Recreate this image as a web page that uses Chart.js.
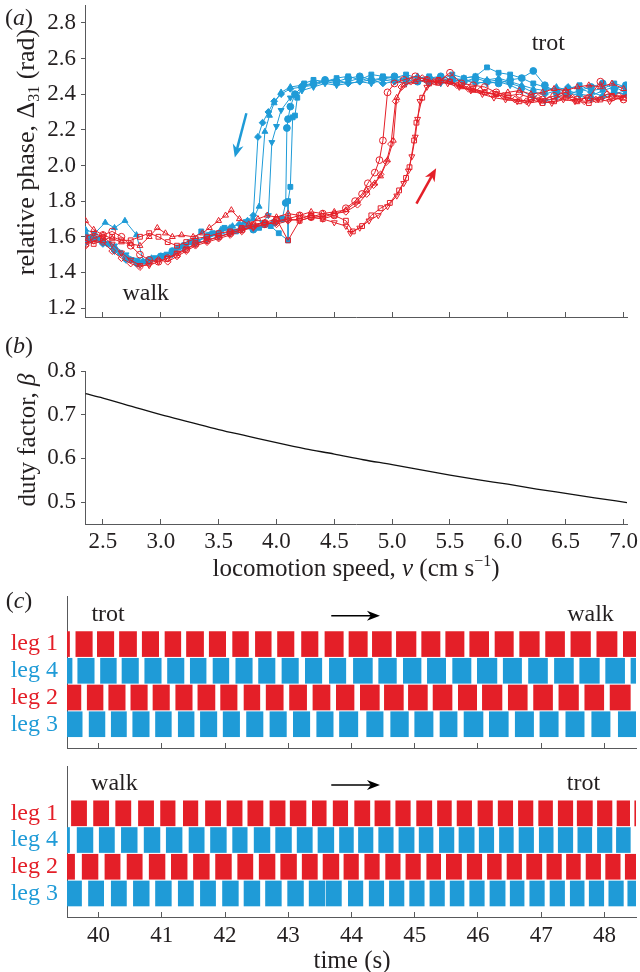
<!DOCTYPE html>
<html><head><meta charset="utf-8">
<script src="https://cdn.jsdelivr.net/npm/chart.js@4.4.1/dist/chart.umd.min.js"></script>
<style>
html,body{margin:0;padding:0;background:#fff;width:640px;height:972px;overflow:hidden;font-family:"Liberation Serif",serif;color:#231f20;}
canvas{position:absolute;left:0;}
.t{position:absolute;white-space:nowrap;font-size:24px;line-height:1;}
.c{transform:translate(-50%,-50%);}
.r{transform:translate(-50%,-50%) rotate(-90deg);}
sub{font-size:16px;vertical-align:-5px;line-height:0;}
sup{font-size:16px;vertical-align:10px;line-height:0;}
</style></head><body>
<canvas id="ca" width="640" height="330" style="top:0"></canvas>
<canvas id="cb" width="640" height="250" style="top:330px"></canvas>
<canvas id="cc1" width="640" height="170" style="top:590px"></canvas>
<canvas id="cc2" width="640" height="212" style="top:760px"></canvas>
<div class="t c" style="left:19px;top:17px">(<i>a</i>)</div>
<div class="t r" style="left:26px;top:152px;font-size:26px">relative phase, Δ<sub>31</sub> (rad)</div>
<div class="t c" style="left:19px;top:345px">(<i>b</i>)</div>
<div class="t r" style="left:26px;top:440px;font-size:25px">duty factor, <i>β</i></div>
<div class="t c" style="left:356px;top:567px;font-size:25px">locomotion speed, <i>v</i> (cm s<sup>−1</sup>)</div>
<div class="t c" style="left:19px;top:600px">(<i>c</i>)</div>
<div class="t c" style="left:352px;top:959px;font-size:25px">time (s)</div>
<script>
// ---------- DATA ----------
const speedTicks = [2.5,3.0,3.5,4.0,4.5,5.0,5.5,6.0,6.5,7.0];
const phaseTicks = [1.2,1.4,1.6,1.8,2.0,2.2,2.4,2.6,2.8];
const dutyTicks = [0.5,0.6,0.7,0.8];
const timeTicks = [40,41,42,43,44,45,46,47,48];
const legLabels = ['leg 1','leg 4','leg 2','leg 3'];

// (a) decreasing speed (blue, filled markers): [speed, relative phase]
const blueCircle = [[7.02,2.45],[6.92,2.43],[6.82,2.46],[6.72,2.44],[6.62,2.42],[6.52,2.40],[6.42,2.41],[6.32,2.45],[6.22,2.53],[6.12,2.49],[6.02,2.48],[5.92,2.46],[5.82,2.47],[5.72,2.49],[5.62,2.47],[5.52,2.48],[5.42,2.50],[5.32,2.49],[5.22,2.47],[5.12,2.48],[5.02,2.50],[4.92,2.49],[4.82,2.48],[4.72,2.50],[4.62,2.49],[4.52,2.47],[4.42,2.48],[4.32,2.46],[4.22,2.44],[4.16,2.40],[4.12,2.33],[4.10,2.26],[4.09,2.21],[4.08,1.79],[4.05,1.70],[3.98,1.68],[3.90,1.67],[3.80,1.64],[3.70,1.65],[3.60,1.63],[3.50,1.61],[3.40,1.60],[3.30,1.57],[3.20,1.55],[3.10,1.52],[3.00,1.49],[2.90,1.47],[2.80,1.45],[2.70,1.48],[2.60,1.53],[2.50,1.57],[2.40,1.59],[2.35,1.60]];
const blueSquare = [[7.02,2.44],[6.92,2.46],[6.82,2.43],[6.72,2.42],[6.62,2.45],[6.52,2.43],[6.42,2.41],[6.32,2.44],[6.22,2.46],[6.12,2.49],[6.02,2.51],[5.92,2.52],[5.82,2.55],[5.72,2.50],[5.62,2.49],[5.52,2.51],[5.42,2.48],[5.32,2.50],[5.22,2.49],[5.12,2.51],[5.02,2.49],[4.92,2.50],[4.82,2.51],[4.72,2.48],[4.62,2.50],[4.52,2.49],[4.42,2.47],[4.32,2.48],[4.24,2.46],[4.18,2.38],[4.16,2.28],[4.14,2.27],[4.12,1.88],[4.10,1.80],[4.10,1.58],[4.02,1.62],[3.95,1.66],[3.85,1.65],[3.75,1.66],[3.65,1.63],[3.55,1.65],[3.45,1.62],[3.35,1.63],[3.25,1.57],[3.15,1.54],[3.05,1.50],[2.95,1.48],[2.85,1.46],[2.75,1.47],[2.65,1.51],[2.55,1.56],[2.45,1.59],[2.35,1.61]];
const blueTriDown = [[7.02,2.42],[6.92,2.40],[6.82,2.38],[6.72,2.37],[6.62,2.39],[6.52,2.41],[6.42,2.38],[6.32,2.36],[6.22,2.38],[6.12,2.42],[6.02,2.45],[5.92,2.47],[5.82,2.46],[5.72,2.47],[5.62,2.48],[5.52,2.47],[5.42,2.46],[5.32,2.48],[5.22,2.47],[5.12,2.46],[5.02,2.47],[4.92,2.48],[4.82,2.46],[4.72,2.47],[4.62,2.46],[4.52,2.45],[4.42,2.46],[4.32,2.44],[4.22,2.42],[4.12,2.38],[4.04,2.31],[4.00,2.22],[3.96,2.13],[3.93,1.72],[3.88,1.68],[3.80,1.66],[3.70,1.64],[3.60,1.62],[3.50,1.60],[3.40,1.58],[3.30,1.56],[3.20,1.53],[3.10,1.50],[3.00,1.48],[2.90,1.46],[2.80,1.47],[2.70,1.50],[2.60,1.55],[2.50,1.58],[2.40,1.60],[2.35,1.58]];
const blueDiamond = [[7.02,2.40],[6.92,2.41],[6.82,2.39],[6.72,2.41],[6.62,2.43],[6.52,2.44],[6.42,2.42],[6.32,2.40],[6.22,2.41],[6.12,2.44],[6.02,2.46],[5.92,2.48],[5.82,2.47],[5.72,2.46],[5.62,2.48],[5.52,2.49],[5.42,2.47],[5.32,2.46],[5.22,2.48],[5.12,2.49],[5.02,2.47],[4.92,2.46],[4.82,2.48],[4.72,2.47],[4.62,2.46],[4.52,2.48],[4.42,2.47],[4.32,2.45],[4.22,2.44],[4.12,2.43],[4.04,2.40],[3.98,2.36],[3.93,2.30],[3.88,2.24],[3.84,2.16],[3.80,1.72],[3.75,1.69],[3.68,1.67],[3.60,1.65],[3.50,1.62],[3.40,1.60],[3.30,1.57],[3.20,1.54],[3.10,1.51],[3.00,1.49],[2.90,1.46],[2.80,1.45],[2.70,1.47],[2.60,1.52],[2.50,1.56],[2.40,1.58],[2.35,1.57]];
const blueTriUp = [[7.02,2.41],[6.92,2.44],[6.82,2.42],[6.72,2.39],[6.62,2.40],[6.52,2.42],[6.42,2.44],[6.32,2.42],[6.22,2.43],[6.12,2.45],[6.02,2.47],[5.92,2.49],[5.82,2.48],[5.72,2.50],[5.62,2.49],[5.52,2.47],[5.42,2.49],[5.32,2.48],[5.22,2.50],[5.12,2.48],[5.02,2.48],[4.92,2.49],[4.82,2.47],[4.72,2.49],[4.62,2.47],[4.52,2.46],[4.42,2.47],[4.32,2.46],[4.22,2.45],[4.12,2.44],[4.04,2.41],[3.98,2.35],[3.94,2.28],[3.90,2.19],[3.85,1.77],[3.80,1.70],[3.72,1.68],[3.62,1.66],[3.52,1.64],[3.42,1.61],[3.32,1.58],[3.22,1.55],[3.12,1.52],[3.02,1.49],[2.92,1.48],[2.85,1.46],[2.79,1.61],[2.69,1.69],[2.60,1.65],[2.52,1.68],[2.43,1.62],[2.35,1.64]];

// (a) increasing speed (red, open markers)
const redCircle = [[2.35,1.56],[2.42,1.59],[2.50,1.61],[2.58,1.63],[2.66,1.60],[2.74,1.55],[2.82,1.50],[2.90,1.47],[2.98,1.46],[3.06,1.48],[3.14,1.50],[3.22,1.53],[3.30,1.56],[3.40,1.58],[3.50,1.60],[3.60,1.62],[3.70,1.64],[3.80,1.66],[3.90,1.67],[4.00,1.69],[4.10,1.70],[4.20,1.72],[4.30,1.71],[4.40,1.73],[4.50,1.72],[4.60,1.76],[4.68,1.80],[4.74,1.84],[4.79,1.90],[4.85,1.96],[4.89,2.03],[4.92,2.14],[4.96,2.41],[5.02,2.46],[5.10,2.48],[5.20,2.50],[5.30,2.48],[5.40,2.47],[5.50,2.52],[5.60,2.46],[5.70,2.45],[5.80,2.44],[5.90,2.41],[6.00,2.39],[6.10,2.40],[6.20,2.38],[6.30,2.37],[6.40,2.39],[6.50,2.41],[6.60,2.37],[6.70,2.38],[6.80,2.47],[6.90,2.38],[7.00,2.37]];
const redSquare = [[2.35,1.58],[2.42,1.56],[2.50,1.58],[2.58,1.60],[2.66,1.58],[2.74,1.58],[2.82,1.60],[2.90,1.62],[2.98,1.60],[3.06,1.57],[3.14,1.55],[3.22,1.57],[3.30,1.59],[3.40,1.60],[3.50,1.62],[3.60,1.63],[3.70,1.65],[3.80,1.67],[3.90,1.68],[4.00,1.70],[4.10,1.58],[4.20,1.69],[4.30,1.71],[4.40,1.70],[4.50,1.72],[4.60,1.69],[4.66,1.63],[4.74,1.66],[4.82,1.72],[4.90,1.76],[4.98,1.79],[5.06,1.86],[5.12,1.93],[5.15,1.99],[5.19,2.14],[5.21,2.24],[5.26,2.38],[5.32,2.46],[5.40,2.48],[5.50,2.47],[5.60,2.45],[5.70,2.43],[5.80,2.41],[5.90,2.40],[6.00,2.38],[6.10,2.36],[6.20,2.37],[6.30,2.35],[6.40,2.36],[6.50,2.38],[6.60,2.36],[6.70,2.35],[6.80,2.37],[6.90,2.39],[7.00,2.38]];
const redTriUp = [[2.35,1.69],[2.42,1.64],[2.50,1.61],[2.58,1.59],[2.66,1.57],[2.74,1.56],[2.82,1.55],[2.90,1.60],[2.97,1.65],[3.04,1.62],[3.10,1.60],[3.18,1.61],[3.28,1.60],[3.36,1.62],[3.42,1.65],[3.50,1.69],[3.56,1.72],[3.61,1.75],[3.68,1.70],[3.76,1.67],[3.84,1.70],[3.92,1.72],[4.00,1.71],[4.10,1.73],[4.20,1.72],[4.30,1.74],[4.40,1.73],[4.50,1.74],[4.60,1.75],[4.70,1.80],[4.78,1.86],[4.85,1.90],[4.90,1.94],[4.96,2.03],[5.01,2.14],[5.04,2.38],[5.10,2.45],[5.20,2.47],[5.30,2.48],[5.40,2.46],[5.50,2.47],[5.60,2.44],[5.70,2.42],[5.80,2.41],[5.90,2.40],[6.00,2.41],[6.10,2.42],[6.20,2.40],[6.30,2.41],[6.40,2.43],[6.50,2.42],[6.60,2.44],[6.70,2.45],[6.80,2.44],[6.90,2.46],[7.00,2.43]];
const redDiamond = [[2.35,1.55],[2.42,1.58],[2.50,1.57],[2.58,1.52],[2.66,1.48],[2.74,1.45],[2.82,1.43],[2.90,1.45],[2.98,1.47],[3.06,1.46],[3.14,1.49],[3.22,1.52],[3.30,1.55],[3.40,1.57],[3.50,1.59],[3.60,1.61],[3.70,1.63],[3.80,1.66],[3.90,1.68],[4.00,1.67],[4.10,1.69],[4.20,1.70],[4.30,1.72],[4.40,1.71],[4.50,1.73],[4.60,1.74],[4.70,1.78],[4.78,1.84],[4.84,1.89],[4.90,1.95],[4.95,2.02],[4.99,2.12],[5.03,2.36],[5.08,2.44],[5.16,2.47],[5.26,2.49],[5.36,2.47],[5.46,2.48],[5.56,2.45],[5.66,2.43],[5.76,2.42],[5.86,2.40],[5.96,2.39],[6.06,2.37],[6.16,2.36],[6.26,2.38],[6.36,2.37],[6.46,2.39],[6.56,2.38],[6.66,2.36],[6.76,2.37],[6.86,2.40],[6.96,2.39],[7.02,2.38]];
const redTriDown = [[2.35,1.60],[2.42,1.62],[2.50,1.60],[2.58,1.56],[2.66,1.51],[2.74,1.47],[2.82,1.44],[2.90,1.44],[2.98,1.46],[3.06,1.48],[3.14,1.51],[3.22,1.53],[3.30,1.56],[3.40,1.58],[3.50,1.60],[3.60,1.62],[3.70,1.64],[3.80,1.65],[3.90,1.67],[4.00,1.68],[4.10,1.70],[4.20,1.69],[4.30,1.71],[4.40,1.70],[4.50,1.68],[4.60,1.66],[4.64,1.62],[4.72,1.65],[4.80,1.69],[4.88,1.72],[4.96,1.77],[5.04,1.83],[5.10,1.90],[5.14,1.97],[5.17,2.05],[5.20,2.16],[5.22,2.26],[5.24,2.36],[5.30,2.44],[5.38,2.47],[5.48,2.46],[5.58,2.44],[5.68,2.42],[5.78,2.40],[5.88,2.38],[5.98,2.37],[6.08,2.36],[6.18,2.35],[6.28,2.36],[6.38,2.35],[6.48,2.37],[6.58,2.36],[6.68,2.38],[6.78,2.37],[6.88,2.36],[6.98,2.38]];

// (b) duty factor vs speed
const dutySpeed = [2.35,2.5,2.75,3.0,3.25,3.5,3.75,4.0,4.25,4.5,4.75,5.0,5.25,5.5,5.75,6.0,6.25,6.5,6.75,7.03];
const dutyFactor = [0.748,0.738,0.719,0.700,0.683,0.666,0.651,0.636,0.622,0.610,0.597,0.586,0.574,0.562,0.551,0.541,0.530,0.520,0.510,0.499];

// (c) stance phases [start, end] in s — upper: trot -> walk
const c1Leg1 = [[39.4,39.54],[39.64,39.90],[39.98,40.24],[40.33,40.60],[40.69,40.95],[41.05,41.30],[41.39,41.66],[41.75,42.01],[42.12,42.37],[42.48,42.73],[42.83,43.09],[43.21,43.47],[43.58,43.87],[43.96,44.25],[44.33,44.63],[44.71,45.02],[45.11,45.40],[45.49,45.78],[45.87,46.17],[46.27,46.56],[46.66,46.97],[47.07,47.37],[47.47,47.78],[47.88,48.20],[48.30,48.6]];
const c1Leg4 = [[39.4,39.58],[39.67,39.93],[40.03,40.28],[40.37,40.63],[40.73,40.99],[41.09,41.35],[41.45,41.70],[41.81,42.06],[42.17,42.43],[42.53,42.79],[42.90,43.16],[43.27,43.53],[43.65,43.91],[44.03,44.33],[44.43,44.71],[44.82,45.10],[45.20,45.49],[45.60,45.89],[45.99,46.30],[46.40,46.69],[46.80,47.10],[47.21,47.51],[47.61,47.92],[48.02,48.32],[48.42,48.6]];
const c1Leg2 = [[39.4,39.72],[39.82,40.07],[40.16,40.42],[40.51,40.77],[40.86,41.12],[41.22,41.48],[41.57,41.84],[41.93,42.19],[42.30,42.55],[42.65,42.92],[43.02,43.29],[43.39,43.66],[43.76,44.04],[44.14,44.44],[44.52,44.82],[44.90,45.20],[45.29,45.59],[45.69,45.98],[46.07,46.38],[46.48,46.78],[46.88,47.18],[47.28,47.59],[47.69,47.99],[48.09,48.41]];
const c1Leg3 = [[39.4,39.74],[39.85,40.10],[40.20,40.44],[40.54,40.80],[40.90,41.15],[41.26,41.51],[41.61,41.87],[41.97,42.23],[42.34,42.60],[42.71,42.97],[43.08,43.34],[43.45,43.71],[43.81,44.10],[44.24,44.50],[44.62,44.90],[45.00,45.29],[45.40,45.67],[45.78,46.08],[46.18,46.48],[46.59,46.88],[46.98,47.27],[47.39,47.68],[47.80,48.09],[48.22,48.6]];
// lower: walk -> trot
const c2Leg1 = [[39.57,39.81],[39.92,40.16],[40.27,40.51],[40.63,40.87],[40.98,41.21],[41.34,41.57],[41.69,41.93],[42.03,42.27],[42.36,42.60],[42.71,42.95],[43.03,43.28],[43.38,43.60],[43.71,43.94],[44.05,44.29],[44.37,44.61],[44.70,44.93],[45.03,45.27],[45.36,45.58],[45.67,45.90],[46.00,46.23],[46.32,46.55],[46.64,46.87],[46.96,47.18],[47.27,47.50],[47.57,47.81],[47.89,48.12],[48.20,48.40],[48.48,48.6]];
const c2Leg4 = [[39.4,39.54],[39.66,39.91],[40.01,40.25],[40.36,40.61],[40.72,40.97],[41.07,41.32],[41.43,41.67],[41.77,42.02],[42.12,42.35],[42.46,42.71],[42.80,43.05],[43.14,43.38],[43.47,43.72],[43.81,44.03],[44.11,44.34],[44.43,44.66],[44.75,44.99],[45.07,45.29],[45.39,45.62],[45.70,45.94],[46.02,46.25],[46.34,46.56],[46.65,46.88],[46.97,47.19],[47.27,47.50],[47.58,47.80],[47.89,48.12],[48.19,48.41]];
const c2Leg2 = [[39.4,39.62],[39.74,39.99],[40.10,40.34],[40.45,40.69],[40.80,41.05],[41.15,41.40],[41.50,41.75],[41.85,42.10],[42.20,42.44],[42.54,42.79],[42.88,43.13],[43.22,43.46],[43.55,43.80],[43.88,44.11],[44.21,44.44],[44.54,44.77],[44.86,45.09],[45.19,45.41],[45.50,45.74],[45.83,46.06],[46.15,46.37],[46.46,46.69],[46.77,47.01],[47.09,47.32],[47.40,47.62],[47.71,47.94],[48.02,48.25],[48.33,48.6]];
const c2Leg3 = [[39.4,39.73],[39.84,40.08],[40.20,40.44],[40.55,40.80],[40.90,41.15],[41.26,41.50],[41.61,41.85],[41.96,42.21],[42.30,42.55],[42.64,42.89],[42.99,43.24],[43.33,43.58],[43.60,43.84],[43.95,44.18],[44.28,44.51],[44.60,44.83],[44.92,45.15],[45.24,45.47],[45.56,45.78],[45.87,46.10],[46.19,46.43],[46.51,46.73],[46.82,47.05],[47.14,47.37],[47.46,47.68],[47.76,47.99],[48.07,48.30],[48.37,48.6]];

// ---------- STYLE ----------
const RED = '#e41f28', BLUE = '#1f9bd7', TXT = '#231f20', AX = '#58595b';
const FONT = '"Liberation Serif", serif';
Chart.defaults.font.family = FONT;
Chart.defaults.color = TXT;

function fix(w, h) {
  return function (s) {
    if (w != null) s.width = w;
    if (h != null) s.height = h;
    s.paddingLeft = 0; s.paddingRight = 0; s.paddingTop = 0; s.paddingBottom = 0;
  };
}
function setTicks(arr) { return s => { s.ticks = arr.map(v => ({ value: v })); }; }

function drawArrow(ctx, x1, y1, x2, y2, color, lw, hl, hw) {
  const a = Math.atan2(y2 - y1, x2 - x1), c = Math.cos(a), s = Math.sin(a);
  ctx.save();
  ctx.strokeStyle = color; ctx.fillStyle = color; ctx.lineWidth = lw;
  ctx.beginPath(); ctx.moveTo(x1, y1); ctx.lineTo(x2 - c * hl * 0.6, y2 - s * hl * 0.6); ctx.stroke();
  ctx.beginPath();
  ctx.moveTo(x2, y2);
  ctx.lineTo(x2 - c * hl + s * hw / 2, y2 - s * hl - c * hw / 2);
  ctx.lineTo(x2 - c * hl * 0.7, y2 - s * hl * 0.7);
  ctx.lineTo(x2 - c * hl - s * hw / 2, y2 - s * hl + c * hw / 2);
  ctx.closePath(); ctx.fill();
  ctx.restore();
}
const annot = {
  id: 'annot',
  afterDatasetsDraw(chart, args, o) {
    const { ctx } = chart, x = chart.scales.x, y = chart.scales.y;
    (o.arrows || []).forEach(a => drawArrow(ctx, x.getPixelForValue(a.x1), y.getPixelForValue(a.y1),
      x.getPixelForValue(a.x2), y.getPixelForValue(a.y2), a.color, a.lw, a.hl, a.hw));
    (o.texts || []).forEach(t => {
      ctx.save(); ctx.font = '24px ' + FONT; ctx.fillStyle = TXT;
      ctx.textAlign = 'center'; ctx.textBaseline = 'middle';
      ctx.fillText(t.text, x.getPixelForValue(t.x), y.getPixelForValue(t.y));
      ctx.restore();
    });
  }
};

function series(data, color, style, filled, rot) {
  return {
    data: data.map(p => ({ x: p[0], y: p[1] })), showLine: true,
    borderColor: color, borderWidth: 1, pointStyle: style, pointRotation: rot || 0,
    pointRadius: 3.4, pointBorderWidth: 1, pointBorderColor: color,
    pointBackgroundColor: filled ? color : 'rgba(255,255,255,0)', order: filled ? 2 : 1
  };
}
const base = { responsive: false, animation: false, devicePixelRatio: 1, events: [] };
const tickFont = { family: FONT, size: 23 };

// ---------- (a) ----------
new Chart(document.getElementById('ca'), {
  type: 'scatter',
  data: { datasets: [
    series(blueCircle, BLUE, 'circle', true), series(blueSquare, BLUE, 'rect', true),
    series(blueTriDown, BLUE, 'triangle', true, 180), series(blueDiamond, BLUE, 'rectRot', true),
    series(blueTriUp, BLUE, 'triangle', true),
    series(redCircle, RED, 'circle', false), series(redSquare, RED, 'rect', false),
    series(redTriUp, RED, 'triangle', false), series(redDiamond, RED, 'rectRot', false),
    series(redTriDown, RED, 'triangle', false, 180)
  ] },
  options: Object.assign({}, base, {
    layout: { padding: { left: 0, right: 13, top: 0, bottom: 0 } },
    plugins: { legend: { display: false }, tooltip: { enabled: false },
      annot: {
        texts: [{ text: 'trot', x: 6.35, y: 2.685 }, { text: 'walk', x: 2.87, y: 1.283 }],
        arrows: [{ x1: 3.74, y1: 2.293, x2: 3.64, y2: 2.045, color: BLUE, lw: 2.5, hl: 13, hw: 11 },
                 { x1: 5.21, y1: 1.786, x2: 5.38, y2: 1.984, color: RED, lw: 2.5, hl: 13, hw: 11 }]
      } },
    scales: {
      x: { type: 'linear', min: 2.345, max: 7.03, afterBuildTicks: setTicks(speedTicks),
        ticks: { display: false }, grid: { drawOnChartArea: false, tickLength: -5, color: AX },
        border: { color: AX }, afterFit: fix(null, 13) },
      y: { type: 'linear', min: 1.15, max: 2.9, afterBuildTicks: setTicks(phaseTicks),
        ticks: { font: tickFont, color: TXT, padding: 5, callback: v => v.toFixed(1) },
        grid: { drawOnChartArea: false, tickLength: 4, color: AX }, border: { color: AX }, afterFit: fix(85, null) }
    }
  }),
  plugins: [annot]
});

// ---------- (b) ----------
new Chart(document.getElementById('cb'), {
  type: 'scatter',
  data: { datasets: [{ data: dutySpeed.map((v, i) => ({ x: v, y: dutyFactor[i] })), showLine: true,
    borderColor: '#111', borderWidth: 1.3, pointRadius: 0, cubicInterpolationMode: 'monotone' }] },
  options: Object.assign({}, base, {
    layout: { padding: { left: 0, right: 13, top: 41, bottom: 0 } },
    plugins: { legend: { display: false }, tooltip: { enabled: false } },
    scales: {
      x: { type: 'linear', min: 2.345, max: 7.03, afterBuildTicks: setTicks(speedTicks),
        ticks: { font: tickFont, color: TXT, padding: 9, maxRotation: 0, callback: v => v.toFixed(1) },
        grid: { drawOnChartArea: false, tickLength: -5, color: AX }, border: { color: AX }, afterFit: fix(null, 56) },
      y: { type: 'linear', min: 0.45, max: 0.8, afterBuildTicks: setTicks(dutyTicks),
        ticks: { font: tickFont, color: TXT, padding: 5, callback: v => v.toFixed(1) },
        grid: { drawOnChartArea: false, tickLength: 4, color: AX }, border: { color: AX }, afterFit: fix(85, null) }
    }
  }),
  plugins: [annot]
});

// ---------- (c) ----------
const legColors = [RED, BLUE, RED, BLUE];
function gait(id, rows, yMin, yMax, showLabels, texts) {
  new Chart(document.getElementById(id), {
    type: 'bar',
    data: { datasets: rows.map((r, i) => ({
      data: r.map(b => ({ x: b, y: i + 1 })), backgroundColor: legColors[i], borderWidth: 0,
      barThickness: 25, grouped: false, clip: 0 })) },
    options: Object.assign({}, base, {
      indexAxis: 'y',
      layout: { padding: { left: 0, right: 4, top: 6, bottom: 0 } },
      plugins: { legend: { display: false }, tooltip: { enabled: false },
        annot: { texts: texts, arrows: [{ x1: 43.68, y1: -0.06, x2: 44.45, y2: -0.06, color: '#000', lw: 1.5, hl: 13, hw: 10 }] } },
      scales: {
        x: { type: 'linear', min: 39.5, max: 48.5, afterBuildTicks: setTicks(timeTicks),
          ticks: { display: showLabels, font: tickFont, color: TXT, padding: 10, maxRotation: 0 },
          grid: { drawOnChartArea: false, tickLength: -5, color: AX }, border: { color: AX },
          afterFit: fix(null, showLabels ? 55 : 12) },
        y: { type: 'linear', reverse: true, offset: false, min: yMin, max: yMax, afterBuildTicks: setTicks([1, 2, 3, 4]),
          ticks: { font: { family: FONT, size: 24 }, padding: 9, color: c => legColors[c.index],
            callback: v => legLabels[v - 1] },
          grid: { drawOnChartArea: false, drawTicks: false, offset: false }, border: { color: AX }, afterFit: fix(67, null) }
      }
    }),
    plugins: [annot]
  });
}
gait('cc1', [c1Leg1, c1Leg4, c1Leg2, c1Leg3], -0.80, 4.89, false,
  [{ text: 'trot', x: 40.15, y: -0.1 }, { text: 'walk', x: 47.78, y: -0.1 }]);
gait('cc2', [c2Leg1, c2Leg4, c2Leg2, c2Leg3], -0.77, 4.88, true,
  [{ text: 'walk', x: 40.25, y: -0.1 }, { text: 'trot', x: 47.67, y: -0.1 }]);
</script>
</body></html>
